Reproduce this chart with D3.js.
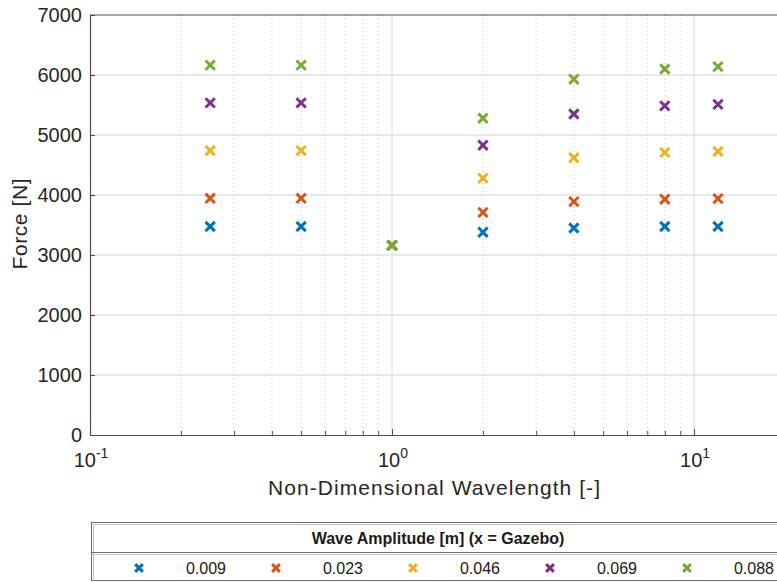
<!DOCTYPE html>
<html>
<head>
<meta charset="utf-8">
<script src="https://cdn.jsdelivr.net/npm/d3@7"></script>
<style>
  body { margin: 0; background: #fff; }
  text { font-family: "Liberation Sans", Arial, sans-serif; }
</style>
</head>
<body>
<div id="container"></div>
<script>
let w = 777;
let h = 582;

// data
let wavelengths = [0.25, 0.5, 1, 2, 4, 8, 12];
let amplitudes = ["0.009", "0.023", "0.046", "0.069", "0.088"];
let colors = ["#0072BD", "#D95319", "#EDB120", "#7E2F8E", "#77AC30"];
let force009 = [3475, 3475, 3160, 3380, 3450, 3475, 3475];
let force023 = [3945, 3945, 3160, 3710, 3890, 3930, 3940];
let force046 = [4740, 4740, 3160, 4280, 4620, 4710, 4725];
let force069 = [5535, 5535, 3160, 4830, 5350, 5485, 5510];
let force088 = [6165, 6165, 3160, 5280, 5930, 6100, 6140];
let series = [force009, force023, force046, force069, force088];
let yTicks = [0, 1000, 2000, 3000, 4000, 5000, 6000, 7000];
let xDecades = [0.1, 1, 10];
let xMinor = [0.2, 0.3, 0.4, 0.5, 0.6, 0.7, 0.8, 0.9, 2, 3, 4, 5, 6, 7, 8, 9, 20];

let plotLeft = 90, plotTop = 15, plotBottom = 435;

let viz = d3.select("#container")
  .append("svg")
    .attr("width", w)
    .attr("height", h)
;

let xScale = d3.scaleLog().domain([0.1, 20]).range([plotLeft, 785]);
let yScale = d3.scaleLinear().domain([0, 7000]).range([plotBottom, plotTop]);
let plotRight = xScale(20);

// grid
let grid = viz.append("g");
grid.selectAll(".minor").data(xMinor).enter().append("line")
  .attr("x1", d => xScale(d)).attr("x2", d => xScale(d))
  .attr("y1", plotTop).attr("y2", plotBottom)
  .attr("stroke", "#c8c8c8").attr("stroke-width", 1)
  .attr("stroke-dasharray", "1,3");
grid.selectAll(".major").data(xDecades.slice(1)).enter().append("line")
  .attr("x1", d => xScale(d)).attr("x2", d => xScale(d))
  .attr("y1", plotTop).attr("y2", plotBottom)
  .attr("stroke", "#e0e0e0").attr("stroke-width", 1.3);
grid.selectAll(".ygrid").data(yTicks.slice(1, -1)).enter().append("line")
  .attr("x1", plotLeft).attr("x2", plotRight)
  .attr("y1", d => yScale(d)).attr("y2", d => yScale(d))
  .attr("stroke", "#e0e0e0").attr("stroke-width", 1.3);

// y axis
let yAxis = d3.axisLeft(yScale).tickValues(yTicks).tickFormat(d3.format("d"))
  .tickSizeInner(-5).tickSizeOuter(0).tickPadding(8);
let yAxisGroup = viz.append("g").attr("transform", "translate(" + plotLeft + ",0)").call(yAxis);
yAxisGroup.select(".domain").attr("stroke", "#4d4d4d").attr("stroke-width", 1.2);
yAxisGroup.selectAll(".tick line").attr("stroke", "#4d4d4d");
yAxisGroup.selectAll(".tick text")
  .attr("font-size", "20px").attr("fill", "#262626")
  .style("font-family", "Liberation Sans, Arial, sans-serif");

// x axis
let xAxis = d3.axisBottom(xScale).tickValues(xMinor.concat(xDecades)).tickSizeInner(-4).tickSizeOuter(0).tickFormat("");
let xAxisGroup = viz.append("g").attr("transform", "translate(0," + plotBottom + ")").call(xAxis);
xAxisGroup.select(".domain").attr("stroke", "#4d4d4d").attr("stroke-width", 1.2);
xAxisGroup.selectAll(".tick line").attr("stroke", "#4d4d4d");
xAxisGroup.selectAll(".tick").filter(d => xDecades.includes(d)).select("line").attr("y2", -6);

// top border
viz.append("line")
  .attr("x1", plotLeft).attr("x2", plotRight).attr("y1", plotTop).attr("y2", plotTop)
  .attr("stroke", "#4d4d4d").attr("stroke-width", 1.2);

// decade labels
let exps = viz.selectAll(".dec").data(xDecades).enter().append("text")
  .attr("x", d => xScale(d) + 1)
  .attr("y", 467)
  .attr("text-anchor", "middle")
  .attr("font-size", "20px")
  .attr("fill", "#262626");
exps.append("tspan").text("10");
exps.append("tspan").text(d => Math.round(Math.log10(d)))
  .attr("dy", -9).attr("font-size", "14px");

// axis titles
viz.append("text")
  .text("Non-Dimensional Wavelength [-]")
  .attr("x", 434).attr("y", 495)
  .attr("text-anchor", "middle")
  .attr("textLength", 332).attr("lengthAdjust", "spacing")
  .attr("font-size", "21px").attr("fill", "#262626");
viz.append("text")
  .text("Force [N]")
  .attr("transform", "translate(27,224) rotate(-90)")
  .attr("text-anchor", "middle")
  .attr("textLength", 91).attr("lengthAdjust", "spacing")
  .attr("font-size", "21px").attr("fill", "#262626");

// markers
let cross = d3.symbol().type(d3.symbolX).size(58);
series.forEach(function(vals, si){
  viz.append("g").selectAll("path").data(vals).enter().append("path")
    .attr("d", cross)
    .attr("transform", (d, i) => "translate(" + xScale(wavelengths[i]) + "," + yScale(d) + ")")
    .attr("fill", "none")
    .attr("stroke", colors[si])
    .attr("stroke-width", 3);
});

// legend
let lg = viz.append("g");
lg.append("rect").attr("x", 91.5).attr("y", 522.5).attr("width", 700).attr("height", 58)
  .attr("fill", "#fff").attr("stroke", "#6e6e6e").attr("stroke-width", 1);
lg.append("rect").attr("x", 93.5).attr("y", 524.5).attr("width", 700).attr("height", 58)
  .attr("fill", "none").attr("stroke", "#c4c4c4").attr("stroke-width", 1);
lg.append("line").attr("x1", 92).attr("x2", 777).attr("y1", 552.5).attr("y2", 552.5)
  .attr("stroke", "#6e6e6e");
lg.append("line").attr("x1", 92).attr("x2", 777).attr("y1", 554.5).attr("y2", 554.5)
  .attr("stroke", "#c4c4c4");
lg.append("text").text("Wave Amplitude [m] (x = Gazebo)")
  .attr("x", 438).attr("y", 544)
  .attr("text-anchor", "middle").attr("font-weight", "bold")
  .attr("font-size", "16px").attr("fill", "#1a1a1a");
let lgScale = d3.scaleBand().domain(amplitudes).range([104, 789]);
let items = lg.selectAll(".item").data(amplitudes).enter().append("g")
  .attr("transform", d => "translate(" + lgScale(d) + ",568)");
items.append("path")
  .attr("d", d3.symbol().type(d3.symbolX).size(40))
  .attr("transform", "translate(35,0)")
  .attr("fill", "none")
  .attr("stroke", (d, i) => colors[i])
  .attr("stroke-width", 3);
items.append("text").text(d => d)
  .attr("x", 102).attr("y", 6)
  .attr("text-anchor", "middle")
  .attr("font-size", "16px").attr("fill", "#1a1a1a");
</script>
</body>
</html>
